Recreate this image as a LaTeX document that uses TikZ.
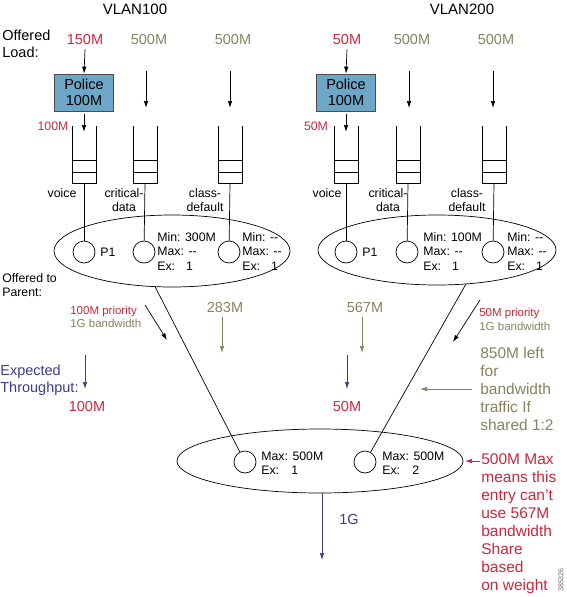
\documentclass[tikz,border=0pt]{standalone}
\usepackage{fontspec}
\setmainfont{Liberation Sans}
\usetikzlibrary{arrows.meta,shapes.geometric}
\definecolor{cred}{HTML}{D0253A}
\definecolor{colive}{HTML}{85845E}
\definecolor{cnavy}{HTML}{3C3C8E}
\definecolor{cpol}{HTML}{6CA7C7}
\begin{document}
\begin{tikzpicture}[x=1pt,y=-1pt,line width=0.7pt,
  big/.style={font=\fontsize{14.5}{17}\selectfont,inner sep=0pt},
  ttl/.style={font=\fontsize{15}{17}\selectfont,inner sep=0pt},
  mid/.style={font=\fontsize{12.3}{14.5}\selectfont,inner sep=0pt},
  sml/.style={font=\fontsize{11.5}{13.5}\selectfont,inner sep=0pt},
  note/.style={font=\fontsize{15.5}{18}\selectfont,inner sep=0pt,align=left,anchor=west},
  arr/.style={-{Latex[length=7pt,width=4.5pt]}},
  police/.style={draw=black!70,fill=cpol,minimum width=59pt,minimum height=37pt,inner sep=0pt,align=center,font=\fontsize{14.5}{16}\selectfont},
  cls/.style={circle,draw,minimum size=22pt,inner sep=0pt},
  oval/.style={ellipse,draw,inner sep=0pt},
  queue/.pic={\draw (-12,0) -- (-12,57) -- (12,57) -- (12,0);
              \draw (-12,34) -- (12,34); \draw (-12,46) -- (12,46);
              \coordinate (-bot) at (0,57); \coordinate (-top) at (0,6);}
]
\useasboundingbox (0,0) rectangle (567,597);

% titles
\node[ttl] (vlan1) at (135,9) {VLAN100};
\node[ttl] (vlan2) at (462,9) {VLAN200};
\node[big,align=left,anchor=west] (offl) at (2,44) {Offered\\Load:};

% offered loads
\node[big,text=cred] (l1a) at (85,40) {150M};
\node[big,text=colive] (l1b) at (149,40) {500M};
\node[big,text=colive] (l1c) at (233,40) {500M};
\node[big,text=cred] (l2a) at (347,40) {50M};
\node[big,text=colive] (l2b) at (412,40) {500M};
\node[big,text=colive] (l2c) at (496,40) {500M};

% police boxes
\node[police] (pol1) at (84,92.5) {Police\\100M};
\node[police] (pol2) at (346,92.5) {Police\\100M};

% queues
\pic (q1a) at (84,126) {queue};
\pic (q1b) at (145,126) {queue};
\pic (q1c) at (230,126) {queue};
\pic (q2a) at (346,126) {queue};
\pic (q2b) at (408,126) {queue};
\pic (q2c) at (494,126) {queue};

% arrows into police / queues
\draw[arr] (l1a.south) ++(0,4) coordinate (s1a) (s1a) -- (pol1.north);
\draw[arr] (l2a.south) ++(0,4) coordinate (s2a) (s2a) -- (pol2.north);
\draw[arr] (pol1.south) ++(0,3) coordinate (p1o) (p1o) -- (q1a-top);
\draw[arr] (pol2.south) ++(0,3) coordinate (p2o) (p2o) -- (q2a-top);
\coordinate (a1b) at (146,71); \coordinate (t1b) at (146,108);
\coordinate (a1c) at (230,71); \coordinate (t1c) at (230,108);
\coordinate (a2b) at (409,71); \coordinate (t2b) at (409,108);
\coordinate (a2c) at (493,71); \coordinate (t2c) at (493,108);
\draw[arr] (a1b) -- (t1b);
\draw[arr] (a1c) -- (t1c);
\draw[arr] (a2b) -- (t2b);
\draw[arr] (a2c) -- (t2c);
\node[mid,text=cred] (po1) at (53,126) {100M};
\node[mid,text=cred] (po2) at (316,126) {50M};

% class labels
\node[mid] (v1) at (62,193) {voice};
\node[mid,align=center] (cd1) at (124,200) {critical-\\data};
\node[mid,align=center] (cl1) at (205,200) {class-\\default};
\node[mid] (v2) at (327,193) {voice};
\node[mid,align=center] (cd2) at (388,200) {critical-\\data};
\node[mid,align=center] (cl2) at (467,200) {class-\\default};

% child policy ellipses
\node[oval,minimum width=236pt,minimum height=72pt] (e1) at (172,251) {};
\node[oval,minimum width=238pt,minimum height=70pt] (e2) at (437,250) {};

\node[cls] (c1a) at (84,252) {};
\node[cls] (c1b) at (144,252) {};
\node[cls] (c1c) at (229,252) {};
\node[cls] (c2a) at (346,252) {};
\node[cls] (c2b) at (407,252) {};
\node[cls] (c2c) at (493,252) {};
\draw (q1a-bot) -- (c1a);
\draw (q1b-bot) -- (c1b);
\draw (q1c-bot) -- (c1c);
\draw (q2a-bot) -- (c2a);
\draw (q2b-bot) -- (c2b);
\draw (q2c-bot) -- (c2c);

\node[mid,anchor=west] (pp1) at (100,252) {P1};
\node[mid,anchor=west] (pp2) at (362,252) {P1};
\node[mid,anchor=west,align=left] (m1b) at (157,251.5) {Min: 300M\\Max: -{}-\\Ex:\hspace{0.9em}1};
\node[mid,anchor=west,align=left] (m1c) at (242,251.5) {Min: -{}-\\Max: -{}-\\Ex:\hspace{0.9em}1};
\node[mid,anchor=west,align=left] (m2b) at (423,251.5) {Min: 100M\\Max: -{}-\\Ex:\hspace{0.9em}1};
\node[mid,anchor=west,align=left] (m2c) at (507,251.5) {Min: -{}-\\Max: -{}-\\Ex:\hspace{0.9em}1};

\node[mid,align=left,anchor=west] (otp) at (2,285) {Offered to\\Parent:};

% parent ellipse
\node[oval,minimum width=286pt,minimum height=64pt] (e3) at (320,461) {};
\node[cls] (b1) at (245,462) {};
\node[cls] (b2) at (365,462) {};
\node[mid,anchor=west,align=left] (mb1) at (261,463) {Max: 500M\\Ex:\hspace{1em}1};
\node[mid,anchor=west,align=left] (mb2) at (382,463) {Max: 500M\\Ex:\hspace{1em}2};
\draw (e1.245) -- (b1);
\draw (e2.-50) -- (b2);

% output
\coordinate (outend) at (322,560);
\draw[arr,cnavy] (e3.south -| outend) -- (outend);
\node[big,text=cnavy] (g1) at (349,520) {1G};

% left annotations
\node[sml,anchor=west,align=left] (pr1) at (70,317) {\textcolor{cred}{100M priority}\\\textcolor{colive}{1G bandwidth}};
\coordinate (ka1) at (145,305); \coordinate (kb1) at (167,340);
\draw[arr] (ka1) -- (kb1);
\node[big,text=colive] (n283) at (225,308) {283M};
\coordinate (o283) at (222,353);
\draw[arr,colive] (n283.south -| o283) ++(0,4) coordinate (o283s) (o283s) -- (o283);
\node[big,text=cnavy,align=left,anchor=west] (exp) at (0,380) {Expected\\Throughput:};
\coordinate (na1) at (85,355); \coordinate (nb1) at (85,389);
\draw[arr,cnavy] (na1) -- (nb1);
\node[big,text=cred] (t100) at (87,407) {100M};

% right annotations
\node[big,text=colive] (n567) at (365,308) {567M};
\coordinate (o567) at (362,353);
\draw[arr,colive] (n567.south -| o567) ++(0,4) coordinate (o567s) (o567s) -- (o567);
\coordinate (na2) at (347,355); \coordinate (nb2) at (347,389);
\draw[arr,cnavy] (na2) -- (nb2);
\node[big,text=cred] (t50) at (347,407) {50M};
\node[sml,anchor=west,align=left] (pr2) at (479,319.5) {\textcolor{cred}{50M priority}\\\textcolor{colive}{1G bandwidth}};
\coordinate (ka2) at (480,300); \coordinate (kb2) at (453,342);
\draw[arr] (ka2) -- (kb2);
\node[note,text=colive] (left850) at (480,388.5) {850M left\\for\\bandwidth\\traffic If\\shared 1:2};
\coordinate (lf) at (420,389);
\draw[arr,colive] (left850.west |- lf) ++(-8,0) coordinate (lfs) (lfs) -- (lf);
\node[note,text=cred] (maxn) at (481,523.5) {500M Max\\means this\\entry can't\\use 567M\\bandwidth\\Share\\based\\on weight};
\coordinate (mx) at (465,461);
\draw[arr,cred] (maxn.west |- mx) ++(-1,0) coordinate (mxs) (mxs) -- (mx);

\node[font=\fontsize{7}{8}\selectfont,text=black!60,rotate=90,inner sep=0pt] (fig) at (561,580) {385326};
\end{tikzpicture}
\end{document}
